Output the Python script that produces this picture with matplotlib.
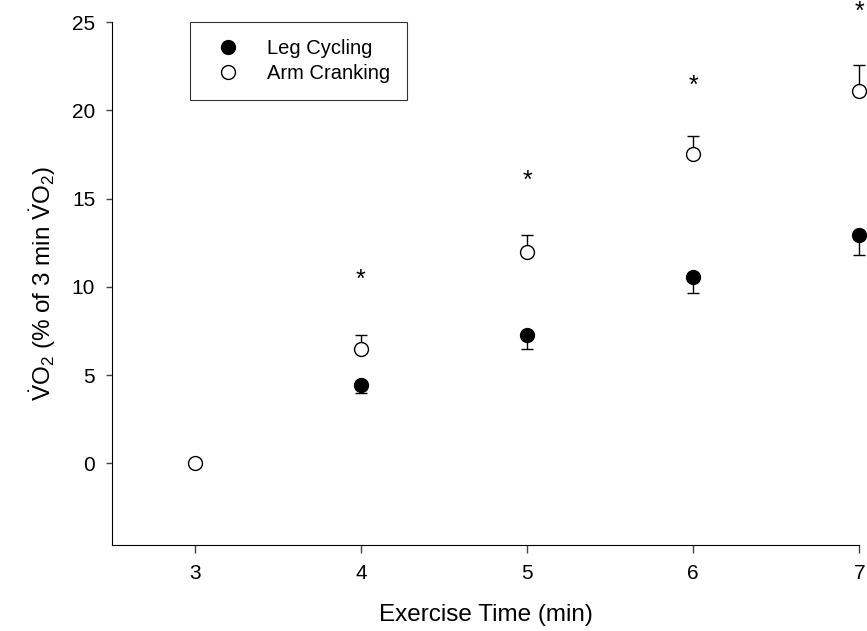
import matplotlib
matplotlib.use("Agg")
import matplotlib.pyplot as plt
from matplotlib.lines import Line2D

plt.rcParams['font.family'] = ['Liberation Sans', 'DejaVu Sans']
plt.rcParams['mathtext.fontset'] = 'custom'
plt.rcParams['mathtext.rm'] = 'Liberation Sans'
plt.rcParams['mathtext.it'] = 'Liberation Sans:italic'

# data
leg_time = [4, 5, 6, 7]
leg_vo2 = [4.45, 7.3, 10.55, 12.95]
leg_err = [0.45, 0.8, 0.9, 1.15]   # drawn downward only

arm_time = [3, 4, 5, 6, 7]
arm_vo2 = [0.0, 6.5, 12.0, 17.5, 21.1]
arm_err = [0.0, 0.75, 0.95, 1.05, 1.45]  # drawn upward only

star_time = [4, 5, 6, 7]
star_y = [10.4, 16.0, 21.4, 25.6]

fig = plt.figure(figsize=(8.67, 6.31), dpi=100)
ax = fig.add_axes([0.129, 0.137, 0.862, 0.828])

ax.errorbar(leg_time, leg_vo2, yerr=[leg_err, [0] * len(leg_err)], fmt='o',
            color='black', mfc='black', mec='black', ms=10, capsize=4.5,
            elinewidth=1, capthick=1, ecolor='black', zorder=3, clip_on=False)
ax.errorbar(arm_time, arm_vo2, yerr=[[0] * len(arm_err), arm_err], fmt='o',
            color='black', mfc='white', mec='black', ms=10, mew=1, capsize=4.5,
            elinewidth=1, capthick=1, ecolor='black', zorder=3, clip_on=False)

for x, y in zip(star_time, star_y):
    ax.text(x, y, '*', ha='center', va='center', fontsize=18, clip_on=False)

ax.set_xlim(2.5, 7)
ax.set_ylim(-4.6, 25)
ax.set_xticks([3, 4, 5, 6, 7])
ax.set_yticks([0, 5, 10, 15, 20, 25])
ax.tick_params(labelsize=15, width=1, color='#444444')
ax.tick_params(axis='x', length=6, pad=8)
ax.tick_params(axis='y', length=4, pad=8)
for s in ['top', 'right']:
    ax.spines[s].set_visible(False)

ax.set_xlabel('Exercise Time (min)', fontsize=17.5, labelpad=15)
ax.set_ylabel(r'$\dot{\mathrm{V}}\mathrm{O}_2$ (% of 3 min $\dot{\mathrm{V}}\mathrm{O}_2$)',
              fontsize=17.5, labelpad=10)

handles = [
    Line2D([], [], ls='none', marker='o', ms=10, mfc='black', mec='black'),
    Line2D([], [], ls='none', marker='o', ms=10, mfc='white', mec='black'),
]
leg = ax.legend(handles, ['Leg Cycling', 'Arm Cranking'],
                loc='upper left', bbox_to_anchor=(0.105, 1.0), fontsize=14.5,
                frameon=True, fancybox=False, edgecolor='black',
                borderpad=0.85, handletextpad=0.95, labelspacing=0.3,
                borderaxespad=0, handlelength=2.0)
leg.get_frame().set_linewidth(0.8)

fig.savefig('out.png', dpi=100)
